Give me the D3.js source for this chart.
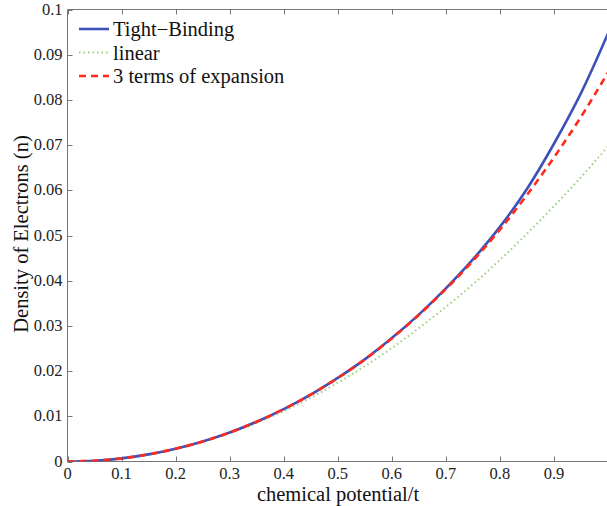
<!DOCTYPE html>
<html><head><meta charset="utf-8">
<script src="https://cdn.jsdelivr.net/npm/d3@7"></script>
<style>body{margin:0;background:#fff}svg{display:block}
text{font-family:'Liberation Serif','Times New Roman','DejaVu Serif',serif}</style>
</head><body>
<svg id="c" width="607" height="506"></svg>
<script>
const mu = [0,0.05,0.1,0.15,0.2,0.25,0.3,0.35,0.4,0.45,0.5,0.55,0.6,0.65,0.7,0.75,0.8,0.85,0.9,0.95,1.0];
const tightBinding = [0,0.000174,0.0007,0.00158,0.00282,0.00442,0.00641,0.0088,0.0116,0.0148,0.0185,0.0226,0.0273,0.0325,0.0383,0.0447,0.0519,0.0603,0.0703,0.0815,0.0947];
const linear = [0,0.000174,0.000697,0.00157,0.00279,0.00436,0.00627,0.00854,0.01115,0.01411,0.01743,0.02108,0.0251,0.0295,0.0342,0.0392,0.0446,0.0504,0.0565,0.0629,0.0697];
const threeTerms = [0,0.000174,0.000699,0.00158,0.00282,0.00442,0.0064,0.00879,0.01157,0.01478,0.01845,0.02258,0.02722,0.03243,0.03814,0.04438,0.05131,0.05896,0.06726,0.07624,0.08608];
const xTicks = [0,0.1,0.2,0.3,0.4,0.5,0.6,0.7,0.8,0.9];
const yTicks = [0,0.01,0.02,0.03,0.04,0.05,0.06,0.07,0.08,0.09,0.1];
const seriesNames = ["Tight\u2212Binding","linear","3 terms of expansion"];

const svg = d3.select("#c");
const L = 67.5, R = 608, T = 9.5, B = 461.5;
const x = d3.scaleLinear().domain([0,1]).range([L,R]);
const y = d3.scaleLinear().domain([0,0.1]).range([B,T]);
const axisCol = "#777";

svg.append("line").attr("x1",L).attr("x2",R).attr("y1",B).attr("y2",B).attr("stroke",axisCol);
svg.append("line").attr("x1",L).attr("x2",R).attr("y1",T).attr("y2",T).attr("stroke",axisCol);
svg.append("line").attr("x1",L).attr("x2",L).attr("y1",T).attr("y2",B).attr("stroke",axisCol);

xTicks.forEach(v=>{
  const px = Math.round(x(v))+0.5;
  svg.append("line").attr("x1",px).attr("x2",px).attr("y1",B).attr("y2",B-5).attr("stroke",axisCol);
  svg.append("line").attr("x1",px).attr("x2",px).attr("y1",T).attr("y2",T+5).attr("stroke",axisCol);
  svg.append("text").attr("x",x(v)).attr("y",B+17).attr("text-anchor","middle")
    .attr("font-size",16.5).attr("fill","#222").text(d3.format("")(v));
});
yTicks.forEach(v=>{
  const py = Math.round(y(v))+0.5;
  svg.append("line").attr("x1",L).attr("x2",L+5).attr("y1",py).attr("y2",py).attr("stroke",axisCol);
  svg.append("text").attr("x",L-5).attr("y",y(v)+5).attr("text-anchor","end")
    .attr("font-size",16.5).attr("fill","#222").text(d3.format("")(v));
});

svg.append("text").attr("x",338).attr("y",500.5).attr("text-anchor","middle")
  .attr("font-size",20.5).attr("fill","#111").text("chemical potential/t");
svg.append("text").attr("transform","translate(28,234) rotate(-90)").attr("text-anchor","middle")
  .attr("font-size",20.5).attr("fill","#111").text("Density of Electrons (n)");

const g = svg.append("g");
g.append("clipPath").attr("id","clip").append("rect").attr("x",L).attr("y",T-3).attr("width",R-L+5).attr("height",B-T+3);
const line = d3.line().x(d=>x(d[0])).y(d=>y(d[1])).curve(d3.curveCatmullRom);
const styles = [
  {data:tightBinding, color:"#3d51b8", width:2.6, dash:null},
  {data:linear, color:"#9ed07a", width:2, dash:"1.5,3"},
  {data:threeTerms, color:"#ff2a1a", width:2.6, dash:"7,5"}
];
const plotG = g.append("g").attr("clip-path","url(#clip)");
[1,0,2].forEach(i=>{
  const s = styles[i];
  plotG.append("path").datum(mu.map((m,k)=>[m,s.data[k]])).attr("d",line)
    .attr("fill","none").attr("stroke",s.color).attr("stroke-width",s.width)
    .attr("stroke-dasharray",s.dash);
});

seriesNames.forEach((n,i)=>{
  const s = styles[i];
  const ly = 29 + i*23.5;
  svg.append("line").attr("x1",79).attr("x2",109).attr("y1",ly).attr("y2",ly)
    .attr("stroke",s.color).attr("stroke-width",s.width).attr("stroke-dasharray",s.dash);
  svg.append("text").attr("x",113).attr("y",ly+7).attr("font-size",20.5)
    .attr("fill","#111").text(n);
});
</script>
</body></html>
